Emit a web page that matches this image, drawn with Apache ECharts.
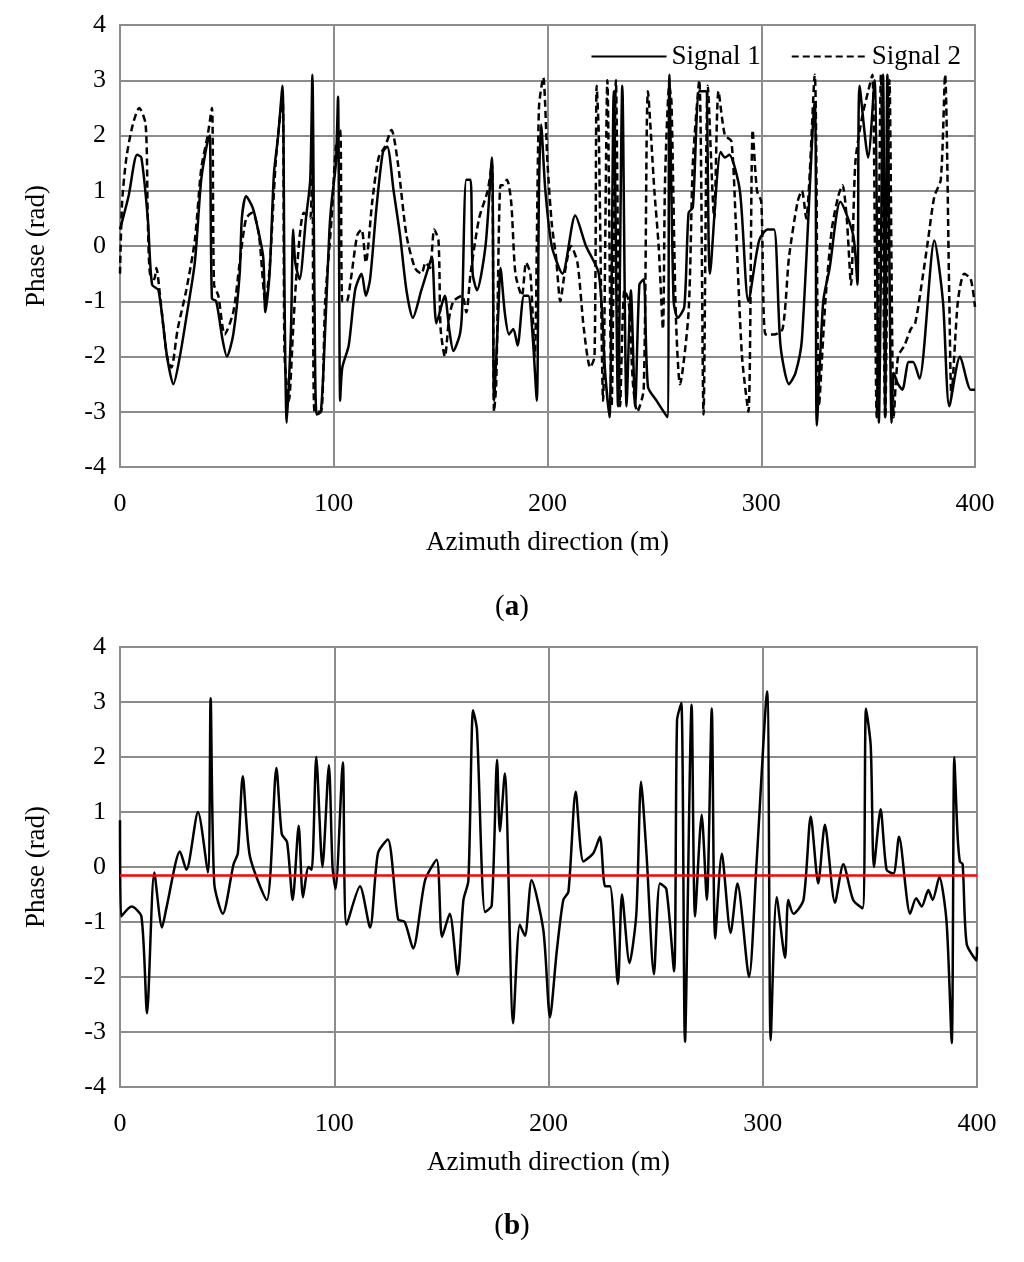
<!DOCTYPE html>
<html>
<head>
<meta charset="UTF-8">
<script src="https://cdn.jsdelivr.net/npm/echarts@6/dist/echarts.min.js"></script>
<style>html,body{margin:0;background:#fff}</style>
</head>
<body>
<div id="main" style="width:1024px;height:1262px;"></div>
<script>
// (a) signal 1, [azimuth m, phase rad]
var signal1 = [[0,0.3],[4,0.9],[8,1.65],[10,1.6],[13,0.5],[15,-0.7],[18,-0.8],[22,-2],[25,-2.5],[28,-2.0],[31,-1.3],[35,-0.3],[38,1.2],[41,1.9],[42,2.0],[43,-0.95],[45,-1.0],[48,-1.7],[50,-2.0],[53,-1.6],[56,-0.5],[57,0.5],[59,0.9],[62,0.7],[64,0.4],[67,-0.2],[68,-1.2],[70,-0.5],[72,1.3],[74,2.0],[76,2.9],[77,-1],[78,-3.2],[80,-1.5],[81,0.3],[82,-0.3],[84,-0.6],[87,0.5],[89,1.2],[90,3.1],[91,-1],[92,-3.05],[94,-3.0],[96,-1.5],[98,0.3],[99,0.8],[101,1.5],[102,2.7],[103,-2.8],[104,-2.2],[107,-1.8],[110,-0.8],[113,-0.5],[115,-0.9],[117,-0.6],[120,0.7],[123,1.7],[125,1.8],[128,1.0],[131,0.2],[134,-0.8],[137,-1.3],[141,-0.8],[145,-0.3],[146,-0.2],[148,-1.4],[151,-1.0],[152,-0.9],[154,-1.5],[156,-1.9],[159,-1.6],[160,-1.2],[162,1.2],[164,1.2],[165,-0.5],[167,-0.8],[171,0.0],[174,1.6],[175,-2.8],[177,-1.2],[178,-0.4],[180,-1.2],[182,-1.6],[184,-1.5],[186,-1.8],[189,-0.9],[191,-0.9],[193,-1.6],[195,-2.8],[196,1.0],[197,2.2],[199,1.0],[202,0.0],[207,-0.5],[213,0.55],[218,0.0],[224,-0.5],[227,-2.3],[229,-3.1],[231,2.8],[233,-2.9],[235,2.9],[237,-2.9],[239,-0.8],[241,-2.9],[243,-0.7],[245,-0.6],[247,-2.55],[251,-2.8],[256,-3.1],[257,3.1],[259,-1.0],[261,-1.3],[264,-1.1],[266,0.6],[268,0.7],[271,2.8],[274,2.8],[276,-0.5],[281,1.7],[283,1.6],[285,1.65],[290,1.0],[294,-1.0],[299,0.1],[303,0.3],[306,0.3],[309,-1.8],[313,-2.5],[316,-2.3],[319,-1.7],[325,2.6],[326,-3.25],[329,-1.0],[332,-0.4],[337,0.8],[343,0.2],[345,-0.7],[346,2.9],[350,1.6],[353,3.0],[355,-3.2],[357,3.1],[358,-3.1],[359,3.1],[361,-3.2],[362,-2.3],[364,-2.5],[366,-2.6],[369,-2.1],[371,-2.1],[374,-2.4],[381,0.1],[385,-1.0],[388,-2.9],[393,-2.0],[398,-2.6],[400,-2.6]];

// (a) signal 2
var signal2 = [[0,-0.5],[1,0.8],[3,1.6],[6,2.2],[9,2.5],[12,2.2],[13,0.5],[14,-0.5],[16,-0.6],[17,-0.4],[19,-1.0],[22,-2.0],[24,-2.2],[27,-1.5],[31,-0.8],[35,0.1],[38,1.4],[41,2.0],[43,2.5],[44,-0.7],[46,-0.9],[49,-1.6],[53,-1.2],[56,-0.3],[59,0.5],[62,0.6],[65,0.2],[68,-1.0],[70,-0.4],[73,1.6],[76,2.7],[77,-2.0],[79,-2.8],[81,-1.5],[83,-0.3],[86,0.6],[89,0.5],[90,2.5],[91,-3.0],[94,-3.0],[96,-1.0],[99,0.5],[101,1.8],[103,2.1],[104,-1.0],[106,-1.0],[108,-0.6],[111,0.2],[113,0.3],[115,-0.3],[118,0.8],[121,1.6],[124,1.8],[127,2.1],[130,1.5],[134,0.2],[138,-0.4],[141,-0.5],[143,-0.3],[145,-0.4],[147,0.3],[149,0.1],[150,-1.5],[152,-2.0],[154,-1.3],[156,-1.0],[160,-0.9],[162,-1.2],[164,-0.5],[168,0.5],[172,1.0],[174,1.5],[175,-3.0],[176,-2.5],[178,1.1],[179,1.1],[181,1.2],[183,0.8],[185,-0.5],[188,-0.9],[190,-0.3],[192,-0.5],[194,-2.0],[196,2.5],[198,3.05],[200,1.5],[202,0.4],[204,-0.2],[206,-1.0],[208,-0.5],[211,0.0],[214,-0.3],[217,-1.5],[220,-2.2],[222,-2.0],[223,2.9],[224,2.0],[226,-2.8],[228,3.0],[230,-2.9],[232,3.0],[234,-2.9],[236,-0.8],[238,-1.0],[240,-2.5],[242,-3.0],[245,-2.6],[247,2.8],[250,1.0],[252,0.0],[254,-1.5],[255,1.2],[257,2.9],[258,2.6],[260,-1.2],[262,-2.5],[266,-1.2],[268,1.5],[271,3.0],[273,-3.05],[275,2.9],[278,0.5],[280,2.8],[283,2.0],[286,1.9],[288,0.5],[291,-2.0],[294,-3.0],[296,2.1],[298,1.0],[300,0.8],[302,-1.6],[306,-1.6],[310,-1.5],[313,-0.2],[317,0.8],[319,1.0],[321,0.5],[325,3.1],[327,-2.9],[330,-1.0],[333,0.3],[336,0.9],[338,1.1],[340,0.5],[342,-0.7],[344,1.5],[347,2.3],[350,2.8],[352,3.1],[354,-3.1],[356,3.1],[358,-3.1],[360,3.0],[362,-3.1],[364,-2.0],[367,-1.8],[370,-1.5],[372,-1.4],[375,-0.7],[378,0.1],[381,0.9],[384,1.2],[386,3.1],[388,-1.0],[389,-2.7],[392,-1.0],[395,-0.5],[398,-0.6],[400,-1.1]];

// (b) phase difference
var phaseDiff = [[0,0.85],[0.5,-0.9],[5.4,-0.72],[10,-0.9],[12.6,-2.66],[16,-0.1],[19.6,-1.1],[21.8,-0.72],[28,0.28],[31,-0.05],[36.4,1.0],[41,-0.1],[42.3,3.07],[44,-0.3],[48,-0.85],[53,0.05],[55,0.25],[57.3,1.65],[60.6,0.2],[68.5,-0.6],[73,1.8],[75.5,0.6],[78,0.45],[80.6,-0.6],[83.4,0.75],[85.4,-0.55],[88,0],[89.5,-0.05],[91.6,2.0],[94.5,0.0],[97.5,1.85],[99.2,0.0],[100.6,-0.4],[104,1.9],[105.8,-1.05],[112,-0.35],[116.7,-1.1],[120.4,0.25],[125,0.5],[129.8,-0.95],[132.9,-1.0],[136.8,-1.48],[142.4,-0.24],[147.8,0.13],[150.3,-1.27],[153.9,-0.85],[157.6,-1.96],[160.3,-0.6],[162.6,-0.25],[164.8,2.85],[166.6,2.5],[170.4,-0.82],[173.5,-0.7],[176,1.95],[177.3,0.65],[179.6,1.7],[183.5,-2.84],[186.6,-1.05],[189,-1.25],[192.1,-0.24],[197.6,-1.15],[200.7,-2.73],[203.8,-1.55],[206.9,-0.6],[209.3,-0.45],[212.7,1.37],[216.3,0.1],[220.9,0.25],[224,0.55],[226.4,-0.35],[228.7,-0.35],[232.4,-2.13],[234.3,-0.5],[237.8,-1.75],[241,-0.85],[243.2,1.55],[245.8,0.2],[249.2,-1.95],[252,-0.3],[255,-0.4],[258.6,-1.9],[260,2.67],[262,2.98],[263.7,-3.18],[266.8,2.95],[268.4,-0.9],[271.5,0.95],[273.9,-0.6],[276.2,2.88],[277.8,-1.3],[280.9,0.24],[285,-1.2],[288.2,-0.3],[293.6,-2.0],[297,0.0],[302,3.19],[303.7,-3.15],[306.5,-0.55],[310.4,-1.65],[311.9,-0.6],[314.3,-0.85],[319,-0.6],[322.4,0.92],[325.9,-0.3],[329,0.77],[333.7,-0.65],[337.6,0.05],[342.2,-0.6],[346.6,-0.75],[348.2,2.88],[350.4,2.2],[351.9,0.0],[355,1.05],[357.8,-0.05],[361,-0.12],[363.6,0.55],[368.8,-0.85],[371.6,-0.57],[374.2,-0.72],[377.3,-0.42],[379.3,-0.6],[382.4,-0.18],[385.8,-1.0],[388.2,-3.2],[389.4,2.0],[390.9,0.6],[392,0.1],[393.3,0.05],[395.2,-1.4],[399.8,-1.7],[400,-1.45]];
var meanLevel = -0.15;

var font = '"Liberation Serif", "DejaVu Serif", serif';
var gridLine = {show: true, lineStyle: {color: '#8c8c8c', width: 2}};

function xAx(i) {
    return {
        type: 'value', gridIndex: i, min: 0, max: 400, interval: 100,
        name: 'Azimuth direction (m)', nameLocation: 'middle', nameGap: 62,
        nameTextStyle: {fontFamily: font, fontSize: 27, color: '#000'},
        axisLabel: {fontFamily: font, fontSize: 26, color: '#000', margin: 24},
        axisLine: {show: false}, axisTick: {show: false}, splitLine: gridLine
    };
}
function yAx(i) {
    return {
        type: 'value', gridIndex: i, min: -4, max: 4, interval: 1,
        name: 'Phase (rad)', nameLocation: 'middle', nameGap: 70, nameRotate: 90,
        nameTextStyle: {fontFamily: font, fontSize: 27, color: '#000'},
        axisLabel: {fontFamily: font, fontSize: 26, color: '#000', margin: 14},
        axisLine: {show: false}, axisTick: {show: false}, splitLine: gridLine
    };
}

var chart = echarts.init(document.getElementById('main'));
chart.setOption({
    backgroundColor: '#fff',
    animation: false,
    grid: [
        {left: 120, right: 49, top: 25, height: 442, show: true, borderColor: '#8c8c8c', borderWidth: 2},
        {left: 120, right: 47, top: 647, height: 440, show: true, borderColor: '#8c8c8c', borderWidth: 2}
    ],
    legend: {
        right: 58, top: 38, itemWidth: 75, itemHeight: 14, itemGap: 30,
        itemStyle: {opacity: 0},
        textStyle: {fontFamily: font, fontSize: 27, color: '#000'},
        data: ['Signal 1', 'Signal 2']
    },
    title: [
        {text: '({a|a})', left: 'center', top: 588, textStyle: {fontFamily: font, fontSize: 29, fontWeight: 'normal', color: '#000', rich: {a: {fontFamily: font, fontSize: 29, fontWeight: 'bold'}}}},
        {text: '({a|b})', left: 'center', top: 1207, textStyle: {fontFamily: font, fontSize: 29, fontWeight: 'normal', color: '#000', rich: {a: {fontFamily: font, fontSize: 29, fontWeight: 'bold'}}}}
    ],
    xAxis: [xAx(0), xAx(1)],
    yAxis: [yAx(0), yAx(1)],
    series: [
        {name: 'Signal 1', type: 'line', xAxisIndex: 0, yAxisIndex: 0, data: signal1, smooth: 0.25, showSymbol: false, symbol: 'none',
         lineStyle: {color: '#000', width: 2.5}, itemStyle: {color: '#000'}},
        {name: 'Signal 2', type: 'line', xAxisIndex: 0, yAxisIndex: 0, data: signal2, smooth: 0.25, showSymbol: false, symbol: 'none',
         lineStyle: {color: '#000', width: 2.5, type: [7, 4]}, itemStyle: {color: '#000'}},
        {name: 'Difference', type: 'line', xAxisIndex: 1, yAxisIndex: 1, data: phaseDiff, smooth: 0.25, showSymbol: false, symbol: 'none',
         lineStyle: {color: '#000', width: 2.5},
         markLine: {silent: true, symbol: 'none', label: {show: false},
             lineStyle: {color: '#ff0000', width: 2.5, type: 'solid'}, data: [{yAxis: meanLevel}]}}
    ]
});
</script>
</body>
</html>
